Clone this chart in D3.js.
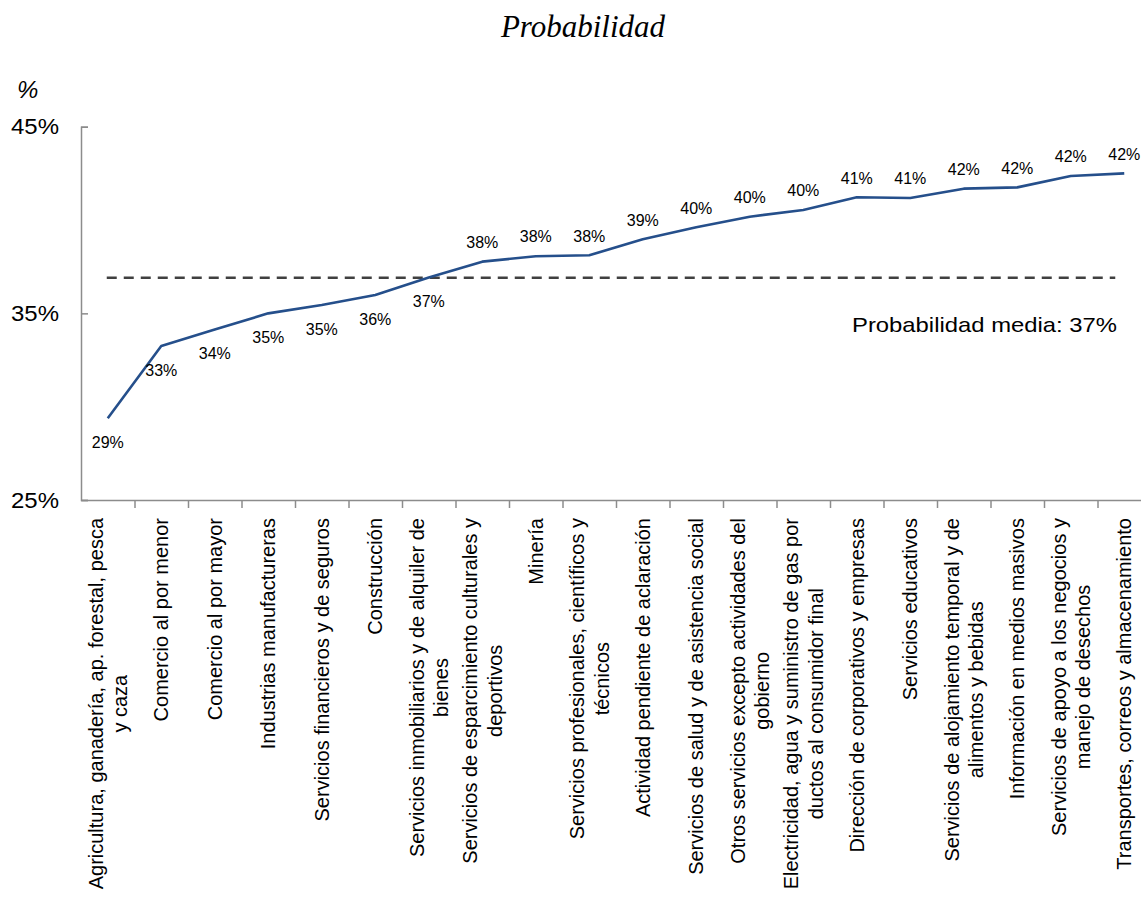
<!DOCTYPE html>
<html>
<head>
<meta charset="utf-8">
<script src="https://cdn.jsdelivr.net/npm/d3@7"></script>
<style>
  html, body { margin: 0; padding: 0; background: #fff; }
  svg { display: block; }
  text { font-family: "Liberation Sans", Arial, sans-serif; fill: #000; }
</style>
</head>
<body>
<svg id="chart" width="1141" height="898"></svg>
<script>
// ---- data ----
const categories = [
  ["Agricultura, ganadería, ap. forestal, pesca", "y caza"],
  ["Comercio al por menor"],
  ["Comercio al por mayor"],
  ["Industrias manufactureras"],
  ["Servicios financieros y de seguros"],
  ["Construcción"],
  ["Servicios inmobiliarios y de alquiler de", "bienes"],
  ["Servicios de esparcimiento culturales y", "deportivos"],
  ["Minería"],
  ["Servicios profesionales, científicos y", "técnicos"],
  ["Actividad pendiente de aclaración"],
  ["Servicios de salud y de asistencia social"],
  ["Otros servicios excepto actividades del", "gobierno"],
  ["Electricidad, agua y suministro de gas por", "ductos al consumidor final"],
  ["Dirección de corporativos y empresas"],
  ["Servicios educativos"],
  ["Servicios de alojamiento temporal y de", "alimentos y bebidas"],
  ["Información en medios masivos"],
  ["Servicios de apoyo a los negocios y", "manejo de desechos"],
  ["Transportes, correos y almacenamiento"]
];
const values = [29.38, 33.25, 34.13, 35.0, 35.45, 35.98, 36.92, 37.77, 38.06, 38.11,
                38.97, 39.61, 40.18, 40.54, 41.22, 41.18, 41.68, 41.75, 42.36, 42.5];
const valueLabels = ["29%","33%","34%","35%","35%","36%","37%","38%","38%","38%",
                     "39%","40%","40%","40%","41%","41%","42%","42%","42%","42%"];
const labelBelow = [true,true,true,true,true,true,true,false,false,false,
                    false,false,false,false,false,false,false,false,false,false];
const meanValue = 36.91;
const meanLabel = "Probabilidad media: 37%";
const yTicks = [25, 35, 45];
const title = "Probabilidad";
const yUnit = "%";

// ---- layout ----
const svg = d3.select("#chart");
const x0 = 81, x1 = 1151, yTop = 126.7, yBot = 500;

const keys = categories.map((d, i) => i);
const x = d3.scaleBand().domain(keys).range([x0, x1]).padding(0);
const y = d3.scaleLinear().domain([25, 45]).range([yBot, yTop]);
const cx = i => x(i) + x.bandwidth() / 2;

// title
svg.append("text")
  .attr("x", 583).attr("y", 37)
  .attr("text-anchor", "middle")
  .style("font-family", "'Liberation Serif', 'Times New Roman', serif")
  .style("font-style", "italic")
  .style("font-size", "31px")
  .text(title);

// unit
svg.append("text")
  .attr("x", 17).attr("y", 98)
  .style("font-style", "italic")
  .style("font-size", "24px")
  .text(yUnit);

const axisColor = "#8c8c8c";

// y axis
const yAxis = d3.axisRight(y).tickValues(yTicks).tickSize(7).tickFormat("");
const gy = svg.append("g").attr("transform", `translate(${x0},0)`).call(yAxis);
gy.select(".domain").attr("stroke", axisColor).attr("stroke-width", 1.5);
gy.selectAll(".tick line").attr("stroke", axisColor).attr("stroke-width", 1.5);

svg.append("g").selectAll("text")
  .data(yTicks).join("text")
  .attr("x", 59).attr("y", d => y(d))
  .attr("dy", "0.36em")
  .attr("text-anchor", "end")
  .style("font-size", "21.5px")
  .attr("textLength", 48).attr("lengthAdjust", "spacingAndGlyphs")
  .text(d => d + "%");

// x axis with ticks at category boundaries
const bounds = d3.range(1, categories.length + 1).map(i => x0 + i * x.bandwidth());
const bScale = d3.scaleLinear().domain([x0, x1]).range([x0, x1]);
const xAxis = d3.axisBottom(bScale).tickValues(bounds).tickSize(8).tickFormat("").tickSizeOuter(0);
const gx = svg.append("g").attr("transform", `translate(0,${yBot})`).call(xAxis);
gx.select(".domain").attr("stroke", axisColor).attr("stroke-width", 1.5);
gx.selectAll(".tick line").attr("stroke", axisColor).attr("stroke-width", 1.5);

// category labels
const catFont = 20, lineH = 24.5, labelTop = 518;
const catG = svg.append("g");
categories.forEach((lines, i) => {
  const g = catG.append("g")
    .attr("transform", `translate(${cx(i)},${labelTop}) rotate(-90)`);
  const texts = lines.map((t, j) => g.append("text")
    .attr("y", (j - (lines.length - 1) / 2) * lineH)
    .attr("dy", "0.36em")
    .attr("text-anchor", "middle")
    .style("font-size", catFont + "px")
    .text(t));
  const maxW = d3.max(texts, t => t.node().getComputedTextLength());
  texts.forEach(t => t.attr("x", -maxW / 2));
});

// mean dashed line
svg.append("line")
  .attr("x1", cx(0) - 1).attr("x2", cx(19) - 9)
  .attr("y1", y(meanValue)).attr("y2", y(meanValue))
  .attr("stroke", "#404040").attr("stroke-width", 2.5)
  .attr("stroke-dasharray", "10,7");

svg.append("text")
  .attr("x", 852).attr("y", 332)
  .style("font-size", "21px")
  .attr("textLength", 265).attr("lengthAdjust", "spacingAndGlyphs")
  .text(meanLabel);

// series line
const line = d3.line().x((d, i) => cx(i)).y(d => y(d));
svg.append("path")
  .datum(values)
  .attr("d", line)
  .attr("fill", "none")
  .attr("stroke", "#254f8b")
  .attr("stroke-width", 2.6)
  .attr("stroke-linejoin", "round");

// data labels
svg.append("g").selectAll("text")
  .data(values).join("text")
  .attr("x", (d, i) => cx(i))
  .attr("y", (d, i) => labelBelow[i] ? y(d) + 24 : y(d) - 19.5)
  .attr("dy", "0.36em")
  .attr("text-anchor", "middle")
  .style("font-size", "16px")
  .text((d, i) => valueLabels[i]);
</script>
</body>
</html>
